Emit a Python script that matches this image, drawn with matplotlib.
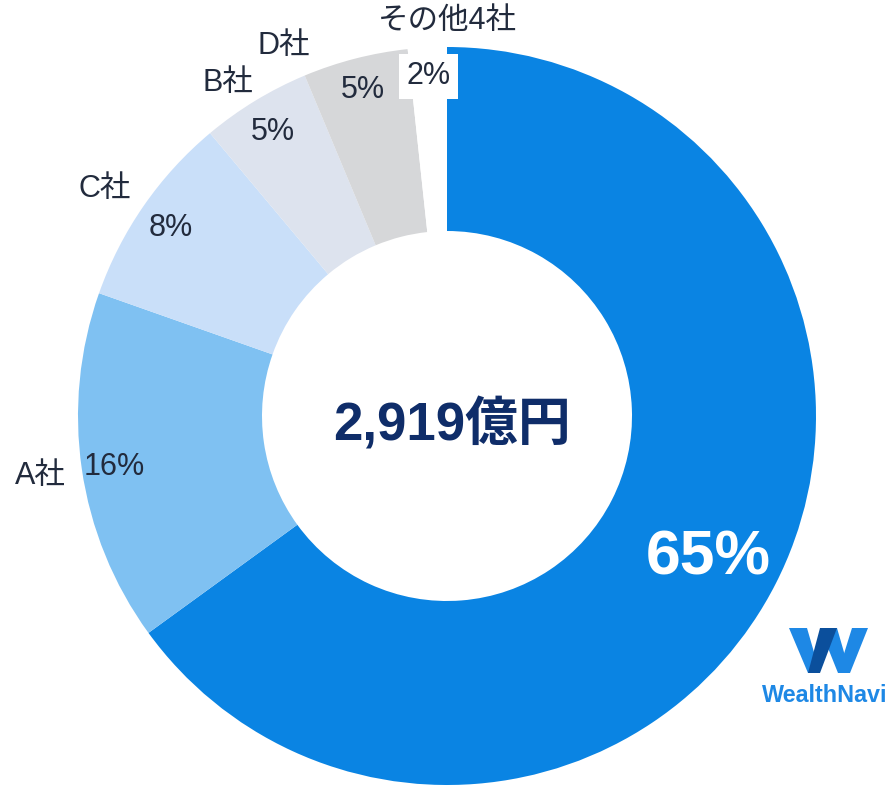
import numpy as np
import matplotlib
matplotlib.use("Agg")
import matplotlib.pyplot as plt
from matplotlib.patches import Polygon

# ---- data ----
companies = ["WealthNavi", "A社", "C社", "B社", "D社", "その他4社"]
shares = [65.0, 15.4, 8.5, 4.8, 4.6, 1.7]
pct_labels = ["65%", "16%", "8%", "5%", "5%", "2%"]
total_label = "2,919億円"
colors = ["#0A84E3", "#7FC1F2", "#C9DFF9", "#DDE3EE", "#D6D7D9", "#FFFFFF"]

# ---- layout ----
W, H = 891, 790
CX, CY = 447, H - 416
R = 369
RING = 184
FAM = ["Liberation Sans", "Noto Sans CJK JP", "DejaVu Sans"]
TXT = "#222B3D"
name_shift_deg = [0, 0, -1.0, -2.0, -9.4, 3.1]
name_rad = [0, 1.114, 1.114, 1.082, 1.099, 1.073]
pct_rad = [0.80, 0.91, 0.91, 0.91, 0.92, 0.93]

fig = plt.figure(figsize=(W / 100, H / 100), dpi=100)
ax = fig.add_axes([0, 0, 1, 1])
wedges, _ = ax.pie(shares, colors=colors, startangle=90, counterclock=False,
                   radius=R, center=(CX, CY),
                   wedgeprops=dict(width=RING, linewidth=0))
ax.set_xlim(0, W)
ax.set_ylim(0, H)
ax.set_aspect("equal")
ax.axis("off")

tot = sum(shares)
cum = 0.0
for i, s in enumerate(shares):
    mid = (cum + s / 2) / tot * 360.0  # clockwise from top
    cum += s
    a = np.deg2rad(mid)
    px = CX + pct_rad[i] * R * np.sin(a)
    py = CY + pct_rad[i] * R * np.cos(a)
    if i == 0:
        ax.text(px - 2, py - 8, pct_labels[i], ha="center", va="center", color="white",
                fontsize=45, fontweight="bold", family=FAM)
    else:
        kw = {}
        if i == len(shares) - 1:
            kw["bbox"] = dict(boxstyle="square,pad=0.25", fc="white", ec="none")
        ax.text(px, py - 3, pct_labels[i], ha="center", va="center", color=TXT,
                fontsize=22, family=FAM, **kw)
        b = np.deg2rad(mid + name_shift_deg[i])
        nx = CX + name_rad[i] * R * np.sin(b)
        ny = CY + name_rad[i] * R * np.cos(b)
        ax.text(nx, ny - 1, companies[i], ha="center", va="center", color=TXT,
                fontsize=22, family=FAM)

ax.text(CX + 5, CY - 9, total_label, ha="center", va="center", color="#0F2D69",
        fontsize=38, fontweight="bold", family=FAM)

# ---- logo ----
def P(pts, c):
    ax.add_patch(Polygon([(x, H - y) for x, y in pts], closed=True, fc=c, ec="none"))

LB, DB = "#1E88E5", "#0B4F9C"
P([(789, 628), (807, 628), (820, 673), (808, 673)], LB)
P([(820, 628), (837, 628), (850, 673), (838, 673)], LB)
P([(852, 628), (868, 628), (850, 673), (838, 673)], LB)
P([(820, 628), (837, 628), (820, 673), (808, 673)], DB)
ax.text(762, H - 696, "WealthNavi", ha="left", va="center", color="#1E88E5",
        fontsize=16.8, fontweight="bold", family=FAM)

fig.savefig("out.png", dpi=100)
